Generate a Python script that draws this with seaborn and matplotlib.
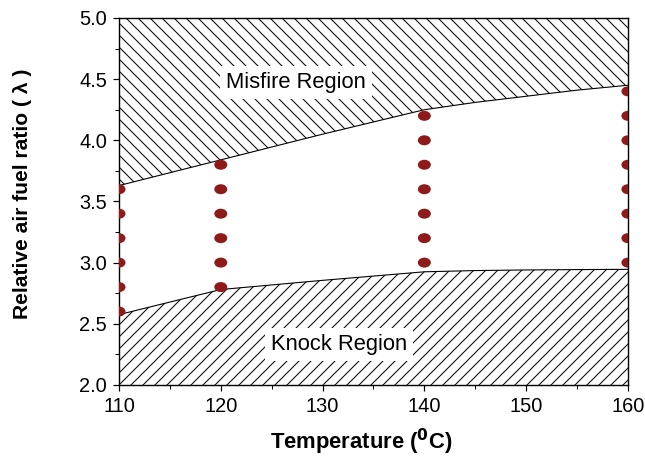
import numpy as np
import pandas as pd
import matplotlib
matplotlib.use('Agg')
import matplotlib.pyplot as plt
import seaborn as sns
from matplotlib.path import Path
from matplotlib.transforms import Affine2D
from matplotlib.ticker import MultipleLocator

# boundary curves
boundary_temp = [110, 120, 130, 140, 145, 150, 155, 160]
misfire_limit = [3.63, 3.84, 4.05, 4.25, 4.31, 4.36, 4.41, 4.45]
knock_limit = [2.575, 2.78, 2.855, 2.925, 2.935, 2.94, 2.943, 2.945]

# stable operating points (lambda values at each temperature)
point_temps = [110, 120, 140, 160]
lambda_110 = [2.6, 2.8, 3.0, 3.2, 3.4, 3.6]
lambda_120 = [2.8, 3.0, 3.2, 3.4, 3.6, 3.8]
lambda_140 = [3.0, 3.2, 3.4, 3.6, 3.8, 4.0, 4.2]
lambda_160 = [3.0, 3.2, 3.4, 3.6, 3.8, 4.0, 4.2, 4.4]

region_labels = ['Misfire Region', 'Knock Region']

sns.set_style('ticks')
plt.rcParams['font.family'] = ['Liberation Sans', 'DejaVu Sans']
plt.rcParams['hatch.linewidth'] = 1.1
plt.rcParams['hatch.color'] = '#111111'
plt.rcParams['text.color'] = 'black'
plt.rcParams['axes.labelcolor'] = 'black'

df_points = pd.DataFrame({
    'temp': sum([[t] * len(v) for t, v in zip(point_temps, [lambda_110, lambda_120, lambda_140, lambda_160])], []),
    'lam': lambda_110 + lambda_120 + lambda_140 + lambda_160,
})
df_bound = pd.DataFrame({'temp': boundary_temp, 'misfire': misfire_limit, 'knock': knock_limit})

fig = plt.figure(figsize=(645 / 72, 461 / 72), dpi=72)
ax = fig.add_axes([0.1845, 0.165, 0.789, 0.796])

# hatched regions
ax.fill_between(df_bound['temp'], df_bound['misfire'], 5.0, facecolor='white',
                edgecolor='#111111', hatch='\\\\', linewidth=0)
ax.fill_between(df_bound['temp'], 2.0, df_bound['knock'], facecolor='white',
                edgecolor='#111111', hatch='//', linewidth=0)
sns.lineplot(data=df_bound, x='temp', y='misfire', color='black', linewidth=1.1, ax=ax)
sns.lineplot(data=df_bound, x='temp', y='knock', color='black', linewidth=1.1, ax=ax)

# oval markers
oval = Path.unit_circle().transformed(Affine2D().scale(1.3, 1.0))
sns.scatterplot(data=df_points, x='temp', y='lam', marker=oval, s=169,
                color='#8e1a1a', edgecolor='none', ax=ax, zorder=3)

text_kw = dict(fontsize=22, ha='center', va='center', color='black',
               bbox=dict(facecolor='white', edgecolor='none', pad=6))
ax.text(127.4, 4.47, region_labels[0], **text_kw)
ax.text(131.6, 2.33, region_labels[1], **text_kw)

ax.set_xlim(110, 160)
ax.set_ylim(2.0, 5.0)
ax.xaxis.set_major_locator(MultipleLocator(10))
ax.xaxis.set_minor_locator(MultipleLocator(5))
ax.yaxis.set_major_locator(MultipleLocator(0.5))
ax.yaxis.set_minor_locator(MultipleLocator(0.25))
ax.set_yticks(np.arange(2.0, 5.01, 0.5))
ax.set_yticklabels([f'{v:.1f}' for v in np.arange(2.0, 5.01, 0.5)])
ax.tick_params(which='major', direction='out', length=6, width=1.2, labelsize=20,
               colors='black', pad=6)
ax.tick_params(which='minor', direction='out', length=4, width=1.0, colors='black')
for s in ax.spines.values():
    s.set_visible(True)
    s.set_linewidth(1.4)
    s.set_color('black')

ax.set_xlabel(r'Temperature ($\mathbf{^{0}}$C)', fontsize=22, fontweight='bold')
ax.set_ylabel('Relative air fuel ratio ( λ )', fontsize=21, fontweight='bold')
ax.xaxis.set_label_coords(0.475, -0.115)
ax.yaxis.set_label_coords(-0.17, 0.52)

fig.savefig('out.png', dpi=72)
